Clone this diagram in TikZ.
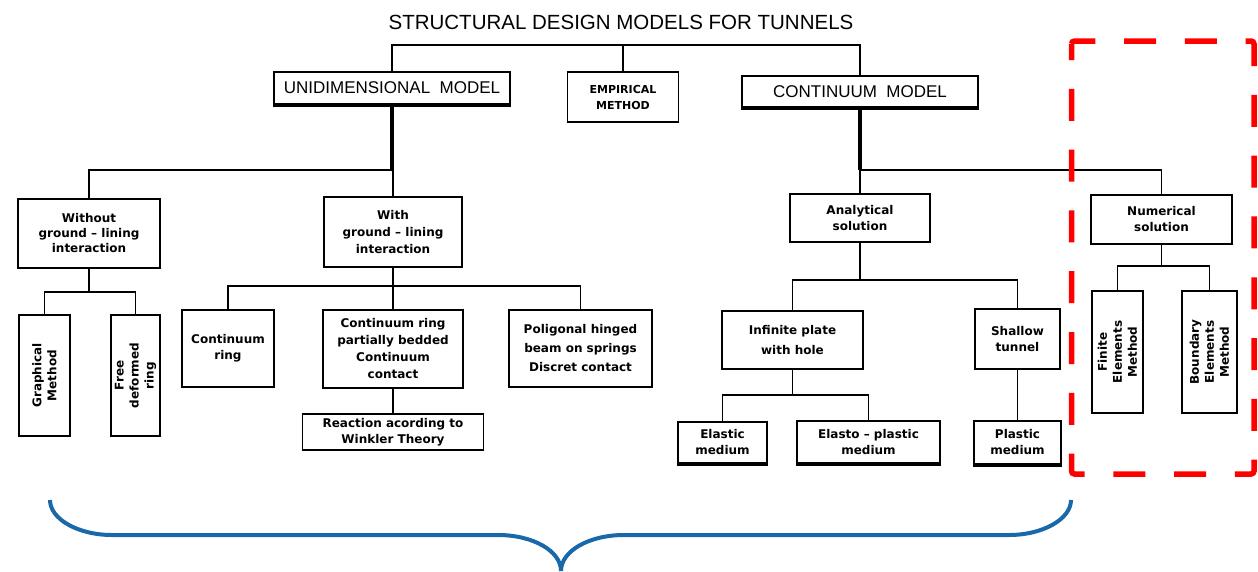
\documentclass[tikz,border=0pt]{standalone}
\usepackage{fontspec}
\setmainfont{DejaVu Sans}
\newfontfamily\letterfont{Liberation Sans}
\usetikzlibrary{calc}
\definecolor{braceblue}{RGB}{25,105,170}
\begin{document}
\begin{tikzpicture}[
    x=1pt, y=-1pt,
    box/.style={draw, line width=1.6pt, align=center, inner sep=0pt, font=\fontsize{12}{16}\selectfont\bfseries},
    tall/.style={box, rotate=90, font=\fontsize{12}{15}\selectfont\bfseries},
    main/.style={box, font=\fontsize{17}{20}\selectfont\letterfont},
    link/.style={line width=1.5pt},
    trunk/.style={line width=3.5pt},
]
\useasboundingbox (0,0) rectangle (1258,571);
\node[font=\fontsize{20.5}{24}\selectfont\letterfont] (title) at (621,22) {STRUCTURAL DESIGN MODELS FOR TUNNELS};
\node[main, minimum width=236, minimum height=32] (unid) at (392,88) {UNIDIMENSIONAL\ \ MODEL};
\node[box, font=\fontsize{11}{16}\selectfont\bfseries, minimum width=111, minimum height=50] (emp) at (623,97) {EMPIRICAL\\METHOD};
\node[main, minimum width=236, minimum height=31] (cont) at (860,91.5) {CONTINUUM\ \ MODEL};
\node[box, font=\fontsize{12}{15}\selectfont\bfseries, minimum width=142, minimum height=69] (without) at (89,233.5) {Without\\ground -- lining\\interaction};
\node[box, font=\fontsize{12}{17}\selectfont\bfseries, minimum width=138, minimum height=70] (with) at (393,232) {With\\ground -- lining\\interaction};
\node[box, minimum width=140, minimum height=48] (anal) at (860,218) {Analytical\\solution};
\node[box, minimum width=141, minimum height=49] (num) at (1161.5,219.5) {Numerical\\solution};
\node[tall, minimum width=121, minimum height=51] (graph) at (44.5,375.5) {Graphical\\Method};
\node[tall, minimum width=121, minimum height=49] (free) at (135.5,375.5) {Free\\deformed\\ring};
\node[box, minimum width=92, minimum height=77] (ring) at (228,348.5) {Continuum\\ring};
\node[box, font=\fontsize{12}{17}\selectfont\bfseries, minimum width=140, minimum height=78] (partial) at (393,349) {Continuum ring\\partially bedded\\Continuum\\contact};
\node[box, font=\fontsize{12}{19}\selectfont\bfseries, minimum width=143, minimum height=77] (polig) at (580.5,348.5) {Poligonal hinged\\beam on springs\\Discret contact};
\node[box, minimum width=181, minimum height=36] (winkler) at (393,432) {Reaction acording to\\Winkler Theory};
\node[box, font=\fontsize{12}{20}\selectfont\bfseries, minimum width=141, minimum height=58] (inf) at (792.5,340) {Infinite plate\\with hole};
\node[box, minimum width=85, minimum height=60] (shallow) at (1017.5,339) {Shallow\\tunnel};
\node[box, minimum width=89, minimum height=41] (elastic) at (722.5,442.5) {Elastic\\medium};
\node[box, minimum width=143, minimum height=42] (elpl) at (868.5,442) {Elasto -- plastic\\medium};
\node[box, minimum width=87, minimum height=43] (plastic) at (1017.5,442.5) {Plastic\\medium};
\node[tall, minimum width=122, minimum height=51] (fin) at (1117.5,352) {Finite\\Elements\\Method};
\node[tall, minimum width=122, minimum height=55] (bnd) at (1209.5,352) {Boundary\\Elements\\Method};
\coordinate (topbus) at (0,45);
\coordinate (ubus) at (0,170);
\coordinate (wbus) at (0,292);
\coordinate (gbus) at (0,286);
\coordinate (abus) at (0,280);
\coordinate (pbus) at (0,395);
\coordinate (nbus) at (0,266);
\draw[link] (unid.north) -- (unid.north |- topbus) -| (cont.north);
\draw[link] (emp.north) -- (emp.north |- topbus);
\draw[trunk] (unid.south) -- (unid.south |- ubus);
\draw[link] (without.north) -- (without.north |- ubus) -| (with.north);
\draw[trunk] (cont.south) -- (cont.south |- ubus);
\draw[link] (anal.north) -- (anal.north |- ubus) -| (num.north);
\draw[link] (without.south) -- (without.south |- wbus);
\draw[link] (graph.east) -- (graph.east |- wbus) -| (free.east);
\draw[link] (with.south) -- (partial.north);
\draw[link] (ring.north) -- (ring.north |- gbus) -| (polig.north);
\draw[link] (partial.south) -- (winkler.north);
\draw[link] (anal.south) -- (anal.south |- abus);
\draw[link] (inf.north) -- (inf.north |- abus) -| (shallow.north);
\draw[link] (inf.south) -- (inf.south |- pbus);
\draw[link] (elastic.north) -- (elastic.north |- pbus) -| (elpl.north);
\draw[link] (shallow.south) -- (plastic.north);
\draw[link] (num.south) -- (num.south |- nbus);
\draw[link] (fin.east) -- (fin.east |- nbus) -| (bnd.east);
\foreach \n in {unid,cont,elastic,elpl,plastic}
  \draw[line width=3pt] ([yshift=-1pt]\n.south west) -- ([yshift=-1pt]\n.south east);
\draw[red, line width=5.5pt, dash pattern=on 32pt off 28.8pt, dash phase=16pt, rounded corners=3pt] (1071.5,41) rectangle (1254,474);
\draw[braceblue, line width=4pt] (50,500) .. controls (50,519) and (78,535) .. (112,535) -- (498,535)
  .. controls (533,535) and (561,551) .. (561,571);
\draw[braceblue, line width=4pt] (1071,500) .. controls (1071,519) and (1043,535) .. (1009,535) -- (624,535)
  .. controls (589,535) and (561,551) .. (561,571);
\end{tikzpicture}
\end{document}
